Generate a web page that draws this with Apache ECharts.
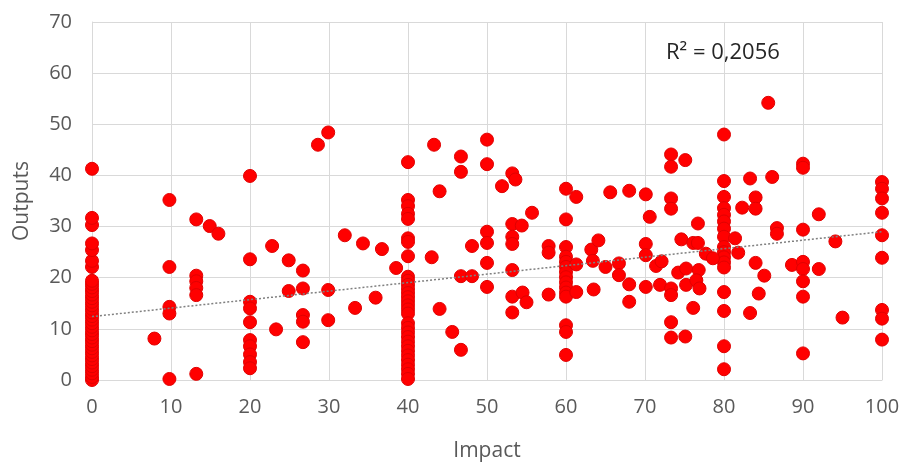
<!DOCTYPE html>
<html>
<head>
<meta charset="utf-8">
<script src="https://cdn.jsdelivr.net/npm/echarts@6.0.0/dist/echarts.min.js"></script>
<style>
  html, body { margin: 0; padding: 0; background: #fff; }
  #chart { width: 907px; height: 463px; }
</style>
</head>
<body>
<div id="chart"></div>
<script>
// outputs stacked on the exact tick columns (impact = 0, 20, 40, 60, 80, 100)
const outputsAt0 = [0, 0.6, 1.3, 2, 2.7, 3.4, 4.1, 4.8, 5.5, 6.2, 6.9, 7.6, 8.3, 9, 9.7, 10.4, 11.1, 11.8,
  12.5, 13.2, 13.9, 14.6, 15.3, 16, 16.7, 17.4, 18.1, 18.8, 19.4, 22.1, 23.3, 25.4, 26.7, 30.3, 31.7, 41.3];
const outputsAt20 = [39.9, 23.6, 15.3, 14.0, 11.3, 7.8, 6.6, 5.0, 3.5, 2.3];
const outputsAt40 = [42.6, 35.2, 34.0, 32.5, 31.5, 27.7, 27.0, 24.2, 20.2, 19.4, 18.6, 17.8, 17.0, 16.2,
  15.4, 14.6, 13.8, 13.0, 11.1, 10.2, 9.3, 8.4, 7.5, 6.6, 5.7, 4.8, 3.9, 3.0, 2.1, 1.2, 0.2];
const outputsAt60 = [37.4, 31.4, 26.0, 24.1, 23.1, 22.1, 21.1, 20.1, 19.1, 18.1, 17.1, 16.3, 10.7, 9.4, 4.9];
const outputsAt80 = [48.0, 38.9, 35.8, 33.6, 32.3, 31.0, 29.6, 28.0, 26.0, 25.0, 24.0, 23.0, 22.0, 17.2,
  13.5, 6.6, 2.1];
const outputsAt100 = [38.7, 37.4, 35.5, 32.7, 28.3, 23.9, 13.7, 12.0, 7.9];

// everything else as [impact, outputs]
const scatteredPoints = [
  [7.9, 8.1], [9.8, 35.2], [9.8, 22.1], [9.8, 14.3], [9.8, 13.0], [9.8, 0.2],
  [13.2, 31.4], [13.2, 20.4], [13.2, 19.3], [13.2, 18.0], [13.2, 16.6], [13.2, 1.2], [14.9, 30.1], [16.0, 28.6],
  [22.8, 26.2], [23.3, 9.9], [24.9, 23.4], [24.9, 17.4], [26.7, 21.4], [26.7, 17.9], [26.7, 12.7], [26.7, 11.4],
  [26.7, 7.4], [28.6, 46.0], [29.9, 48.4], [29.9, 17.6], [29.9, 11.7], [32.0, 28.3], [33.3, 14.1], [34.3, 26.7],
  [35.9, 16.1], [36.7, 25.6], [38.5, 21.9],
  [43.0, 24.0], [43.3, 46.0], [44.0, 36.9], [44.0, 13.9], [45.6, 9.4], [46.7, 43.7], [46.7, 40.7], [46.7, 20.3],
  [46.7, 5.9], [48.1, 26.2], [48.1, 20.3], [50.0, 47.0], [50.0, 42.2], [50.0, 29.0], [50.0, 26.8], [50.0, 22.9],
  [50.0, 18.2], [51.9, 37.9], [53.2, 40.4], [53.6, 39.2], [53.2, 30.5], [54.4, 30.2], [53.2, 28.0], [53.2, 26.6],
  [53.2, 21.5], [53.2, 16.3], [54.5, 17.1], [55.0, 15.2], [53.2, 13.2], [55.7, 32.7], [57.8, 26.2], [57.8, 24.9],
  [57.8, 16.7],
  [61.3, 35.8], [61.3, 22.6], [61.3, 17.2], [63.2, 25.5], [64.1, 27.3], [63.4, 23.3], [63.5, 17.7], [65.0, 22.1],
  [65.6, 36.7], [66.7, 22.8], [66.7, 20.5], [68.0, 37.0], [68.0, 18.7], [68.0, 15.3], [70.1, 36.3], [70.6, 31.9],
  [70.1, 26.6], [70.1, 24.4], [70.1, 18.2], [71.4, 22.3], [72.1, 23.2], [71.9, 18.6], [73.3, 44.1], [73.3, 41.7],
  [75.1, 43.0], [73.3, 35.5], [73.3, 33.5], [73.3, 17.9], [73.3, 16.6], [73.3, 11.3], [73.3, 8.3], [75.1, 8.5],
  [74.6, 27.5], [76.1, 26.8], [76.7, 26.8], [74.2, 21.0], [75.2, 21.8], [75.2, 18.6], [76.8, 21.5], [76.5, 19.5],
  [76.9, 17.9], [76.1, 14.1], [76.7, 30.6], [77.7, 24.7], [78.6, 23.8],
  [81.4, 27.7], [81.8, 24.9], [82.3, 33.7], [83.3, 39.4], [83.3, 13.1], [84.0, 35.7], [84.0, 33.5], [84.0, 22.9],
  [84.4, 16.9], [85.1, 20.4], [85.6, 54.2], [86.1, 39.7], [86.7, 29.7], [86.7, 28.6], [88.6, 22.5], [90.0, 42.3],
  [90.0, 41.5], [90.0, 29.4], [90.0, 23.1], [90.0, 21.7], [90.0, 19.3], [90.0, 16.3], [90.0, 5.2], [92.0, 32.4],
  [92.0, 21.7], [94.1, 27.1], [95.0, 12.2]
];

// linear trendline ends
const trendEnds = [[0, 12.4], [100, 29.0]];
const rSquaredText = "R² = 0,2056";

const columns = [[0, outputsAt0], [20, outputsAt20], [40, outputsAt40], [60, outputsAt60], [80, outputsAt80], [100, outputsAt100]];
const points = columns.flatMap(([x, ys]) => ys.map((y) => [x, y])).concat(scatteredPoints);

const font = "'Open Sans', sans-serif";
const gridColor = "#d9d9d9";

const chart = echarts.init(document.getElementById("chart"));
chart.setOption({
  animation: false,
  grid: { left: 92, right: 25, top: 22, bottom: 83, outerBoundsMode: "none" },
  xAxis: {
    type: "value", min: 0, max: 100, interval: 10,
    name: "Impact", nameLocation: "middle", nameGap: 61,
    nameTextStyle: { fontFamily: font, fontSize: 21, color: "#595959" },
    axisLine: { show: true, lineStyle: { color: gridColor } },
    axisTick: { show: false },
    axisLabel: { fontFamily: font, fontSize: 20, color: "#595959", margin: 17 },
    splitLine: { show: true, lineStyle: { color: gridColor, width: 1 } }
  },
  yAxis: {
    type: "value", min: 0, max: 70, interval: 10,
    name: "Outputs", nameLocation: "middle", nameGap: 59, nameRotate: 90,
    nameTextStyle: { fontFamily: font, fontSize: 21, color: "#595959" },
    axisLine: { show: true, lineStyle: { color: gridColor } },
    axisTick: { show: false },
    axisLabel: { fontFamily: font, fontSize: 20, color: "#595959", margin: 20 },
    splitLine: { show: true, lineStyle: { color: gridColor, width: 1 } }
  },
  graphic: [{
    type: "text", left: 666, top: 42,
    style: { text: rSquaredText, fontFamily: font, fontSize: 22, fill: "#262626" }
  }],
  series: [
    {
      type: "scatter", data: points, symbolSize: 13,
      itemStyle: { color: "#ff0000", borderColor: "#e00000", borderWidth: 1, opacity: 1 }
    },
    {
      type: "line", data: trendEnds, symbol: "none", silent: true,
      lineStyle: { color: "#808080", width: 1.5, type: [2, 2] }
    }
  ]
});
</script>
</body>
</html>
